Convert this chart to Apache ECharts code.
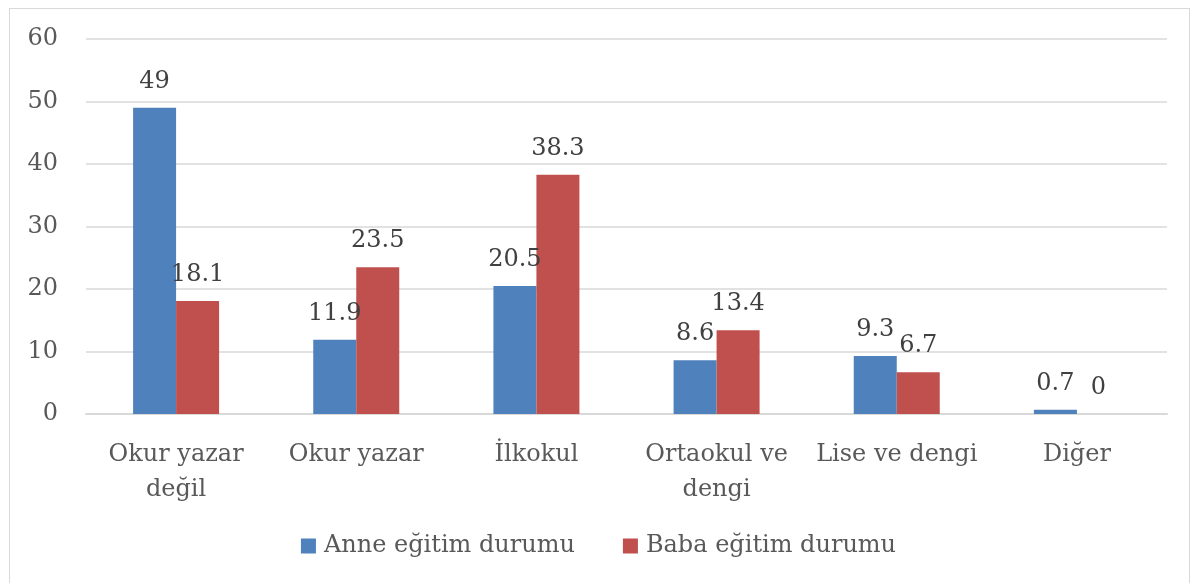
<!DOCTYPE html>
<html>
<head>
<meta charset="utf-8">
<script src="https://cdn.jsdelivr.net/npm/echarts@6/dist/echarts.min.js"></script>
<style>
  html, body { margin: 0; padding: 0; background: #fff; }
  #frame {
    position: absolute; left: 9px; top: 8px; width: 1181px; height: 600px;
    border: 1px solid #d9d9d9; box-sizing: border-box;
  }
  #chart { position: absolute; left: 0; top: 0; width: 1197px; height: 583px; }
</style>
</head>
<body>
<div id="frame"></div>
<div id="chart"></div>
<script>
const categories = ["Okur yazar\ndeğil", "Okur yazar", "İlkokul", "Ortaokul ve\ndengi", "Lise ve dengi", "Diğer"];
const anneValues = [49, 11.9, 20.5, 8.6, 9.3, 0.7];
const babaValues = [18.1, 23.5, 38.3, 13.4, 6.7, 0];
const seriesNames = ["Anne eğitim durumu", "Baba eğitim durumu"];

const font = "DejaVu Serif";
const textColor = "#595959";

const chart = echarts.init(document.getElementById("chart"), null, { renderer: "canvas" });

const labelStyle = {
  show: true,
  position: "top",
  distance: 14,
  fontFamily: font,
  fontSize: 24,
  color: "#404040",
};

chart.setOption({
  animation: false,
  backgroundColor: "transparent",
  grid: { left: 86, right: 30, top: 39, bottom: 169, containLabel: false },
  legend: {
    bottom: 20,
    left: "center",
    itemWidth: 15,
    itemHeight: 15,
    itemGap: 48,
    icon: "rect",
    textStyle: { fontFamily: font, fontSize: 24, color: textColor, padding: [0, 0, 0, 3] },
    data: seriesNames,
  },
  xAxis: {
    type: "category",
    data: categories,
    axisLine: { lineStyle: { color: "#d9d9d9", width: 2 } },
    axisTick: { show: false },
    axisLabel: {
      fontFamily: font, fontSize: 24, color: textColor,
      margin: 23, lineHeight: 35, interval: 0,
    },
  },
  yAxis: {
    type: "value",
    min: 0,
    max: 60,
    interval: 10,
    axisLine: { show: false },
    axisTick: { show: false },
    splitLine: { lineStyle: { color: "#d9d9d9", width: 1.5 } },
    axisLabel: { fontFamily: font, fontSize: 24, color: textColor, margin: 28 },
  },
  series: [
    {
      name: seriesNames[0],
      type: "bar",
      data: anneValues,
      barWidth: 43,
      barGap: "0%",
      itemStyle: { color: "#4F81BD" },
      label: labelStyle,
    },
    {
      name: seriesNames[1],
      type: "bar",
      data: babaValues,
      barWidth: 43,
      barGap: "0%",
      itemStyle: { color: "#C0504D" },
      label: labelStyle,
    },
  ],
});
</script>
</body>
</html>
